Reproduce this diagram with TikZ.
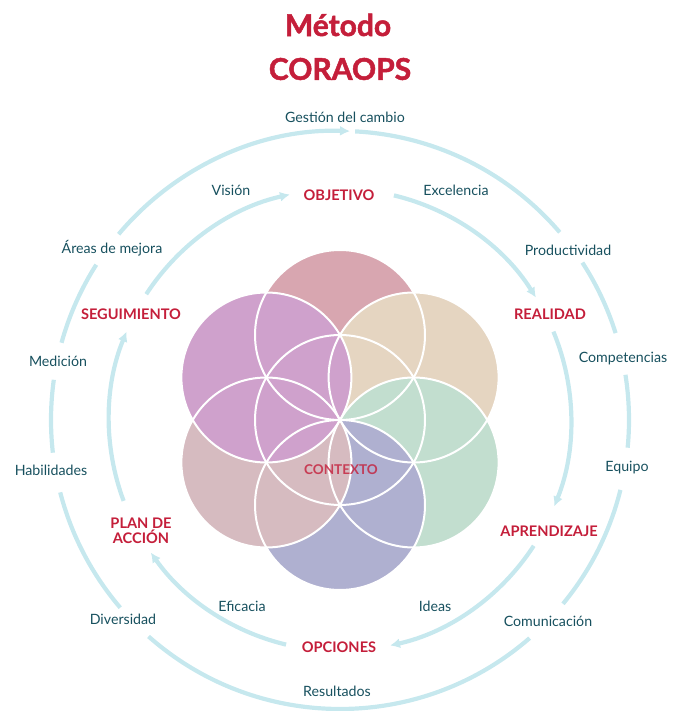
\documentclass[tikz,border=0pt]{standalone}
\usepackage{fontspec}
\setmainfont{Lato}
\newfontfamily\headfont[FakeBold=1.6]{Lato Bold}
\usetikzlibrary{arrows.meta}

\definecolor{stagered}{HTML}{C41E3A}
\definecolor{skillteal}{HTML}{17505E}
\definecolor{ringblue}{HTML}{C6E8EE}
\definecolor{petA}{HTML}{D8A6B0}
\definecolor{petB}{HTML}{E5D5C1}
\definecolor{petC}{HTML}{C2DECF}
\definecolor{petD}{HTML}{AFB0D0}
\definecolor{petE}{HTML}{D6BBC0}
\definecolor{petF}{HTML}{CFA1CC}

\tikzset{
  ring/.style={draw=ringblue,line width=4.2pt},
  ringtip/.style={ring,-{Latex[length=10pt,width=10pt]}},
  stage/.style={font=\bfseries\fontsize{14.6}{15.5}\selectfont,text=stagered,align=center},
  skill/.style={font=\fontsize{14.2}{15}\selectfont,text=skillteal},
  headline/.style={font=\headfont\fontsize{30}{30}\selectfont,text=stagered},
}

\begin{document}
\begin{tikzpicture}[x=1pt,y=1pt]
\useasboundingbox (-340,-291) rectangle (343,420);

\foreach \a/\c in {90/petA,30/petB,-30/petC,-90/petD,210/petE,150/petF}
  \fill[\c] (\a:85pt) circle (85pt);
\foreach \a in {90,30,-30,-90,210,150}
  \draw[white,line width=2pt] (\a:85pt) circle (85pt);
\draw[white,line width=2pt] (0,0) circle (85pt);

\foreach \s/\e in {87/40.5,33/17.5,9/-5.5,-14/-39.5,-49/-131.5,-139.5/-165.5,186.5/172,164.5/147.5}
  \draw[ring] (\s:289pt) arc[start angle=\s,end angle=\e,radius=289pt];
\draw[ringtip] (140:289pt) arc[start angle=140,end angle=88,radius=289pt];

\foreach \s/\e in {147/102.5,76.5/32,22.5/-22,-33/-77.5,-103.5/-145,-159.5/-202.5}
  \draw[ringtip] (\s:231pt) arc[start angle=\s,end angle=\e,radius=231pt];

\node[headline] (me) at (-2,395) {Método};
\node[headline] (cr) at (0,351) {CORAOPS};

\node[stage] (ob) at (-1,225) {OBJETIVO};
\node[stage] (re) at (210,106) {REALIDAD};
\node[stage] (ap) at (209,-111) {APRENDIZAJE};
\node[stage] (op) at (-1,-227) {OPCIONES};
\node[stage] (pl) at (-199,-111) {PLAN DE\\ACCIÓN};
\node[stage] (se) at (-209,106) {SEGUIMIENTO};
\node[stage,font=\bfseries\fontsize{13.5}{14}\selectfont,text opacity=.8] (ct) at (1,-50) {CONTEXTO};

\node[skill] (gc) at (5,303) {Gestión del cambio};
\node[skill] (vi) at (-109,230) {Visión};
\node[skill] (ex) at (116,230) {Excelencia};
\node[skill] (am) at (-228,172) {Áreas de mejora};
\node[skill] (pr) at (228,170) {Productividad};
\node[skill] (md) at (-282,59) {Medición};
\node[skill] (cm) at (283,61) {Competencias};
\node[skill] (hb) at (-289,-50) {Habilidades};
\node[skill] (eq) at (287,-48) {Equipo};
\node[skill] (dv) at (-217,-199) {Diversidad};
\node[skill] (cu) at (208,-201) {Comunicación};
\node[skill] (ef) at (-98,-186) {Eficacia};
\node[skill] (id) at (95,-186) {Ideas};
\node[skill] (rs) at (-3,-271) {Resultados};
\end{tikzpicture}
\end{document}
